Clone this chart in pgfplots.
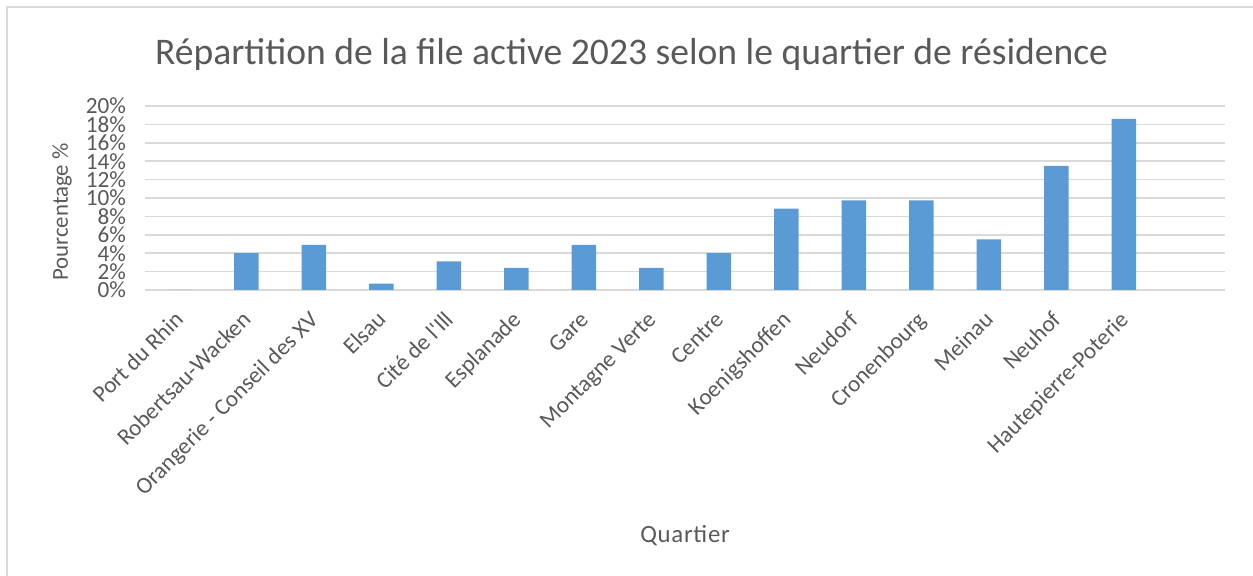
\documentclass[border=0pt]{standalone}
\usepackage{fontspec}
\setmainfont{Carlito}[Ligatures=TeXOff]
\usepackage{pgfplots}
\pgfplotsset{compat=1.18}
\definecolor{barblue}{HTML}{5B9BD5}
\definecolor{txt}{HTML}{595959}
\definecolor{gridc}{HTML}{D9D9D9}
\begin{document}
\begin{tikzpicture}
\useasboundingbox (0,0) rectangle (626.5pt,288pt);
\draw[gridc, line width=1pt] (3.5pt,0pt) -- (3.5pt,284.3pt) -- (626.5pt,284.3pt);
\node[anchor=base, text=txt, font=\fontsize{18.8pt}{22pt}\selectfont] at (315.75pt,255.5pt)
  {Répartition de la file active 2023 selon le quartier de résidence};
\begin{axis}[
  at={(72.5pt,143pt)}, anchor=south west,
  scale only axis, width=540pt, height=92pt,
  ybar, bar width=12.25pt,
  xmin=-0.5, xmax=15.5, ymin=0, ymax=20,
  ytick={0,2,...,20},
  yticklabel={\pgfmathparse{int(\tick)}\pgfmathresult\%},
  xtick={0,...,14},
  xticklabels={Port du Rhin, Robertsau-Wacken, Orangerie - Conseil des XV, Elsau, Cité de l'Ill, Esplanade, Gare, Montagne Verte, Centre, Koenigshoffen, Neudorf, Cronenbourg, Meinau, Neuhof, Hautepierre-Poterie},
  axis line style={draw=none},
  major tick length=0pt,
  xmajorgrids=false,
  ymajorgrids=true, grid style={draw=gridc, line width=0.75pt},
  tick label style={text=txt, font=\fontsize{11.6pt}{13pt}\selectfont},
  yticklabel style={anchor=east, xshift=-6pt},
  xticklabel style={xshift=3pt, yshift=-15.5pt, rotate=45, anchor=base east, inner sep=0pt},
  xlabel={\addfontfeatures{LetterSpace=3}Quartier}, ylabel={Pourcentage \%},
  label style={text=txt},
  xlabel style={font=\fontsize{12.4pt}{14pt}\selectfont, at={(axis description cs:0.5,-1.375)}, anchor=base},
  ylabel style={font=\fontsize{11.4pt}{13pt}\selectfont, at={(axis description cs:-0.0769,0.424)}, anchor=center},
]
\addplot[fill=barblue, draw=none] coordinates {
 (0,0) (1,4.0) (2,4.9) (3,0.7) (4,3.1) (5,2.4) (6,4.9) (7,2.4) (8,4.0)
 (9,8.85) (10,9.75) (11,9.75) (12,5.5) (13,13.5) (14,18.6)
};
\end{axis}
\end{tikzpicture}
\end{document}
